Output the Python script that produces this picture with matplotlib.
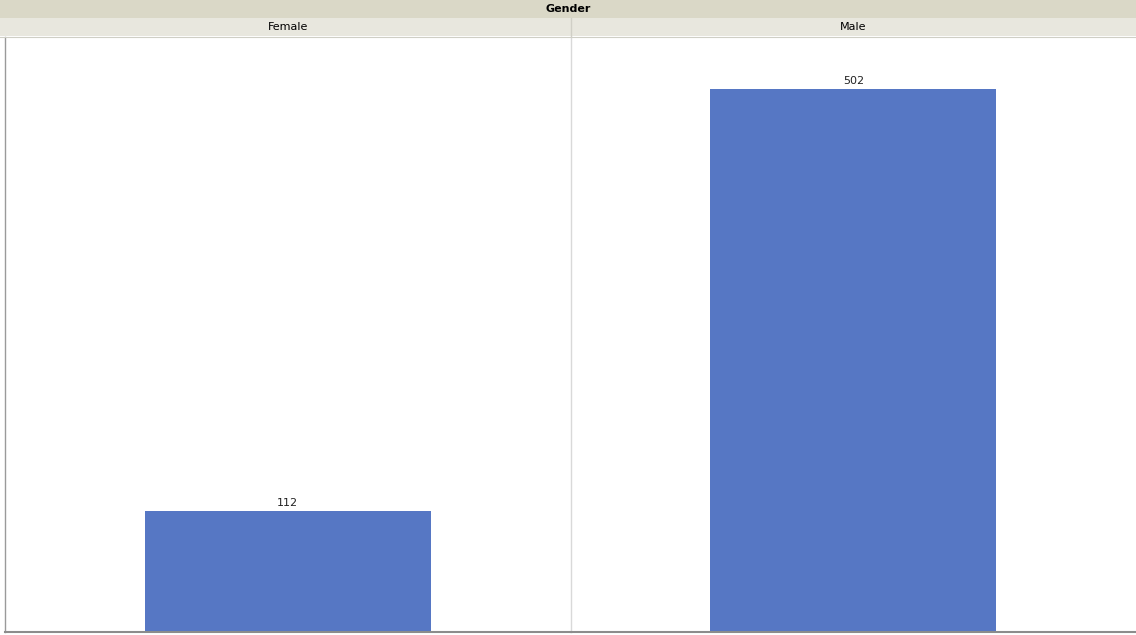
import matplotlib
matplotlib.use('Agg')
import matplotlib.pyplot as plt
from matplotlib.patches import Rectangle

# data
groups = ['Female', 'Male']
counts = [112, 502]
facet_title = 'Gender'

W, H = 1136, 635
fig = plt.figure(figsize=(W / 100, H / 100), dpi=100)
fig.patch.set_facecolor('white')


def fx(px):
    return px / W


def fy(py):
    return 1 - py / H


# header bands
fig.add_artist(Rectangle((0, fy(18)), 1, 18 / H, transform=fig.transFigure,
                         facecolor='#dad8c7', edgecolor='none'))
fig.add_artist(Rectangle((0, fy(36)), 1, 18 / H, transform=fig.transFigure,
                         facecolor='#e8e7de', edgecolor='none'))
fig.add_artist(plt.Line2D([0, 1], [fy(36.5), fy(36.5)], transform=fig.transFigure,
                          color='#cfcfc6', lw=0.8))
fig.text(0.5, fy(9.5), facet_title, ha='center', va='center', fontsize=8,
         fontweight='bold', color='black')

top, bottom = 37, 632
left = 5
panel_w = (W - left) / len(groups)

for i, (g, c) in enumerate(zip(groups, counts)):
    x0 = left + i * panel_w
    ax = fig.add_axes([fx(x0), fy(bottom), panel_w / W, (bottom - top) / H])
    ax.bar([0], [c], width=0.506, color='#5677c4')
    ax.set_xlim(-0.5, 0.5)
    ax.set_ylim(0, 550)
    ax.text(0, c + 3, str(c), ha='center', va='bottom', fontsize=8, color='#222222')
    ax.set_xticks([])
    ax.set_yticks([])
    for s in ax.spines.values():
        s.set_visible(False)
    ax.spines['bottom'].set_visible(True)
    ax.spines['bottom'].set_color('#8c8c8c')
    ax.spines['bottom'].set_linewidth(1.5)
    if i > 0:
        ax.spines['left'].set_visible(True)
        ax.spines['left'].set_color('#d9d9d9')
        ax.spines['left'].set_linewidth(1)
    else:
        ax.spines['left'].set_visible(True)
        ax.spines['left'].set_color('#9a9a9a')
        ax.spines['left'].set_linewidth(1)
    fig.text(fx(x0 + panel_w / 2), fy(27.5), g, ha='center', va='center',
             fontsize=8, color='black')
    if i > 0:
        fig.add_artist(plt.Line2D([fx(x0), fx(x0)], [fy(36), fy(18)],
                                  transform=fig.transFigure, color='#d0cfc6', lw=1))

fig.savefig('out.png', dpi=100)
